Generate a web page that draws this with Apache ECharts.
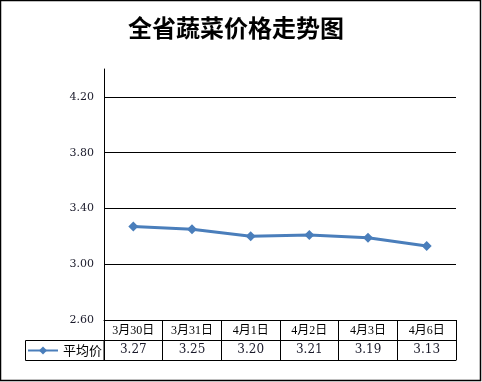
<!DOCTYPE html>
<html><head><meta charset="utf-8">
<script src="https://cdn.jsdelivr.net/npm/echarts@6/dist/echarts.min.js"></script>
<style>html,body{margin:0;padding:0;background:#fff}#c{width:482px;height:382px}</style>
</head><body><div id="c"></div>
<script>
const title = '全省蔬菜价格走势图';
const categories = ['3月30日','3月31日','4月1日','4月2日','4月3日','4月6日'];
const seriesName = '平均价';
const values = [3.27, 3.25, 3.20, 3.21, 3.19, 3.13];
const yMin = 2.6, yMax = 4.4, yStep = 0.4;

const serif = '"DejaVu Serif", "Liberation Serif", "Noto Sans CJK SC", serif';
const cjk = '"Liberation Serif", "Noto Sans CJK SC", serif';
const chart = echarts.init(document.getElementById('c'));
const G = {left:104, right:26, top:69, bottom:62};
chart.setOption({
  animation:false,
  backgroundColor:'#fff',
  title:{text:title,left:128,top:16,padding:0,textStyle:{fontFamily:'"Noto Sans CJK SC"',fontWeight:'bold',fontSize:24,color:'#000'}},
  legend:{data:[seriesName],left:27,top:344,padding:0,itemWidth:30,itemHeight:10,itemGap:4,
    textStyle:{fontFamily:'"Noto Sans CJK SC"',fontSize:13,color:'#000',padding:[0,0,0,0]}},
  grid:G,
  xAxis:[
    {type:'category',data:categories,boundaryGap:true,position:'bottom',
     axisLine:{lineStyle:{color:'#000',width:1}},
     axisTick:{show:true,interval:0,length:40,lineStyle:{color:'#000',width:1}},
     axisLabel:{interval:0,margin:5,fontFamily:cjk,fontSize:12,color:'#000'}},
    {type:'category',data:values.map(v=>v.toFixed(2)),boundaryGap:true,position:'bottom',offset:20,
     axisLine:{lineStyle:{color:'#000',width:1}},
     axisTick:{show:false},
     axisLabel:{interval:0,margin:4,fontFamily:serif,fontSize:12,color:'#1a1a2a'}},
    {type:'category',data:categories,boundaryGap:true,position:'bottom',offset:40,
     axisLine:{lineStyle:{color:'#000',width:1}},axisTick:{show:false},axisLabel:{show:false}}
  ],
  yAxis:{type:'value',min:yMin,max:yMax,interval:yStep,
    axisLine:{show:true,lineStyle:{color:'#000',width:1}},axisTick:{show:false},
    axisLabel:{margin:10,showMaxLabel:false,fontFamily:serif,fontSize:11,color:'#1a1a2a',formatter:v=>v.toFixed(2)},
    splitLine:{show:true,showMaxLine:false,lineStyle:{color:'#000',width:1}}},
  series:[{name:seriesName,type:'line',data:values,xAxisIndex:0,
    symbol:'diamond',symbolSize:10,
    lineStyle:{color:'#4a7ebb',width:3},itemStyle:{color:'#4a7ebb'}}],
  graphic:[
    {type:'rect',shape:{x:0.5,y:0.5,width:480,height:380},style:{fill:'none',stroke:'#000',lineWidth:1.5},silent:true,z:-1},
    {type:'rect',shape:{x:25.5,y:340.5,width:78.5,height:20},style:{fill:'none',stroke:'#000',lineWidth:1},silent:true,z:-1}
  ]
});
</script></body></html>
